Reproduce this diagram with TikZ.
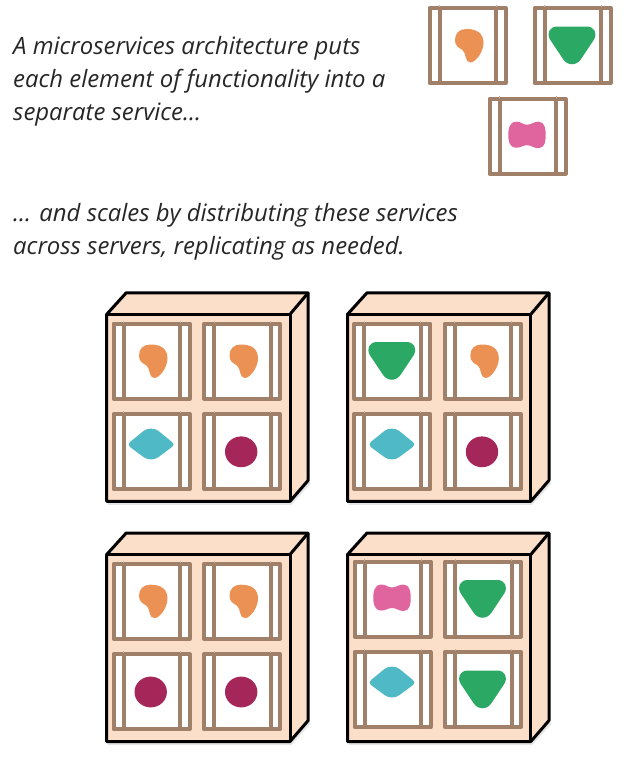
\documentclass[tikz,border=0pt]{standalone}
\usepackage{fontspec}
\setmainfont{Open Sans}
\definecolor{framecolor}{HTML}{A08069}
\definecolor{servercolor}{HTML}{FBDFC9}
\definecolor{inkcolor}{HTML}{262626}
\definecolor{orangecolor}{HTML}{EB9154}
\definecolor{greencolor}{HTML}{2AA864}
\definecolor{pinkcolor}{HTML}{E0659F}
\definecolor{tealcolor}{HTML}{4FB9C6}
\definecolor{marooncolor}{HTML}{A5275A}

\begin{document}
\begin{tikzpicture}[
    x=1pt, y=-1pt,
    caption/.style={anchor=north west, inner sep=0pt, align=left, text=inkcolor, font=\fontsize{23.9}{33}\selectfont\itshape},
    frameline/.style={draw=framecolor, line width=4pt, line join=round},
    serverline/.style={draw=black, line width=3pt, line join=round},
    pics/servicebox/.style={code={
      \path[fill=white, frameline] (0,0) rectangle (76,75);
      \path[frameline] (10,0) -- (10,75);
      \path[frameline] (66.5,0) -- (66.5,75);
      \path[draw=framecolor!60, line width=0.8pt] (10,-3) -- (10,-1);
      \path[draw=framecolor!60, line width=0.8pt] (66.5,-3) -- (66.5,-1);
    }},
    pics/orangeblob/.style={code={
      \path[fill=orangecolor] (25.5,32) .. controls (25.5,25) and (30,21) .. (37,21) .. controls (47,21) and (54,25) .. (54,35) .. controls (54,43) and (47,54) .. (41,54.5) .. controls (35,54.5) and (37,45) .. (33,42) .. controls (29,39.5) and (25.5,38) .. (25.5,32) -- cycle;
    }},
    pics/greenblob/.style={code={
      \path[fill=greencolor] (23,18.5) -- (52,18.5) .. controls (60,18.5) and (63,25) .. (59.5,31.5) -- (46.5,51) .. controls (42,58) and (33,58) .. (28.5,51) -- (15.5,31.5) .. controls (12,25) and (15,18.5) .. (23,18.5) -- cycle;
    }},
    pics/pinkblob/.style={code={
      \path[fill=pinkcolor] (18.8,36) .. controls (18.8,31) and (19.5,23) .. (27,23) .. controls (32,23) and (33,26) .. (37.5,26) .. controls (42,26) and (44,23) .. (49,23) .. controls (55.5,23) and (56.2,31) .. (56.2,36) .. controls (56.2,42) and (55.5,49.5) .. (49,49.5) .. controls (44,49.5) and (42,46.5) .. (37.5,46.5) .. controls (33,46.5) and (32,49) .. (27,49) .. controls (19.5,49) and (18.8,42) .. (18.8,36) -- cycle;
    }},
    pics/tealblob/.style={code={
      \path[fill=tealcolor] (16.5,28) -- (30,17) .. controls (34,13.8) and (41,13.8) .. (45,17) -- (58.5,28) .. controls (60.5,30) and (60.5,31) .. (58.5,33) -- (45,43) .. controls (41,46.3) and (34,46.3) .. (30,43) -- (16.5,33) .. controls (14.8,31) and (14.8,30) .. (16.5,28) -- cycle;
    }},
    pics/maroonblob/.style={code={
      \path[fill=marooncolor] (37.2,37.8) ellipse (16.2 and 15.4);
    }},
    pics/serverbox/.style={code={
      \path[draw=black!10, line width=3pt] (1,189) -- (184,189) -- (203,168);
      \path[fill=servercolor, serverline] (0,0) -- (19.5,-21.5) -- (201.5,-21.5) -- (201.5,166) -- (183.3,187) -- (0,187) -- cycle;
      \path[serverline] (0,0) -- (183.3,0) -- (183.3,187);
      \path[serverline] (183.3,0) -- (201.5,-21.5);
    }}
]
  \useasboundingbox (0,0) rectangle (642,766);

  % 1. Captions
  \node[caption] (introtext) at (13,36.5) {A microservices architecture puts\\each element of functionality into a\\separate service...};
  \node[caption] (scaletext) at (13,203.5) {... and scales by distributing these services\\across servers, replicating as needed.};

  % 2. Separate services
  \begin{scope}[shift={(429.5,8)}]
    \pic {servicebox};
    \pic {orangeblob};
  \end{scope}
  \begin{scope}[shift={(534.5,8)}]
    \pic {servicebox};
    \pic {greenblob};
  \end{scope}
  \begin{scope}[shift={(489.5,98.7)}]
    \pic {servicebox};
    \pic {pinkblob};
  \end{scope}

  % 3. Top left server
  \begin{scope}[shift={(106.7,314.3)}]
    \pic {serverbox};
    \foreach \cellx/\celly/\blob in {6.8/9.2/orangeblob, 97.3/9.2/orangeblob, 6.8/99.7/tealblob, 97.3/99.7/maroonblob} {
      \pic at (\cellx,\celly) {servicebox};
      \pic at (\cellx,\celly) {\blob};
    }
  \end{scope}

  % 4. Top right server
  \begin{scope}[shift={(347.5,314.3)}]
    \pic {serverbox};
    \foreach \cellx/\celly/\blob in {6.8/9.2/greenblob, 97.3/9.2/orangeblob, 6.8/99.7/tealblob, 97.3/99.7/maroonblob} {
      \pic at (\cellx,\celly) {servicebox};
      \pic at (\cellx,\celly) {\blob};
    }
  \end{scope}

  % 5. Bottom left server
  \begin{scope}[shift={(106.7,554.5)}]
    \pic {serverbox};
    \foreach \cellx/\celly/\blob in {6.8/9.2/orangeblob, 97.3/9.2/orangeblob, 6.8/99.7/maroonblob, 97.3/99.7/maroonblob} {
      \pic at (\cellx,\celly) {servicebox};
      \pic at (\cellx,\celly) {\blob};
    }
  \end{scope}

  % 6. Bottom right server
  \begin{scope}[shift={(347.5,554.5)}]
    \pic {serverbox};
    \foreach \cellx/\celly/\blob in {7/7/pinkblob, 97.5/7/greenblob, 7/97.5/tealblob, 97.5/97.5/greenblob} {
      \pic at (\cellx,\celly) {servicebox};
      \pic at (\cellx,\celly) {\blob};
    }
  \end{scope}

\end{tikzpicture}
\end{document}
